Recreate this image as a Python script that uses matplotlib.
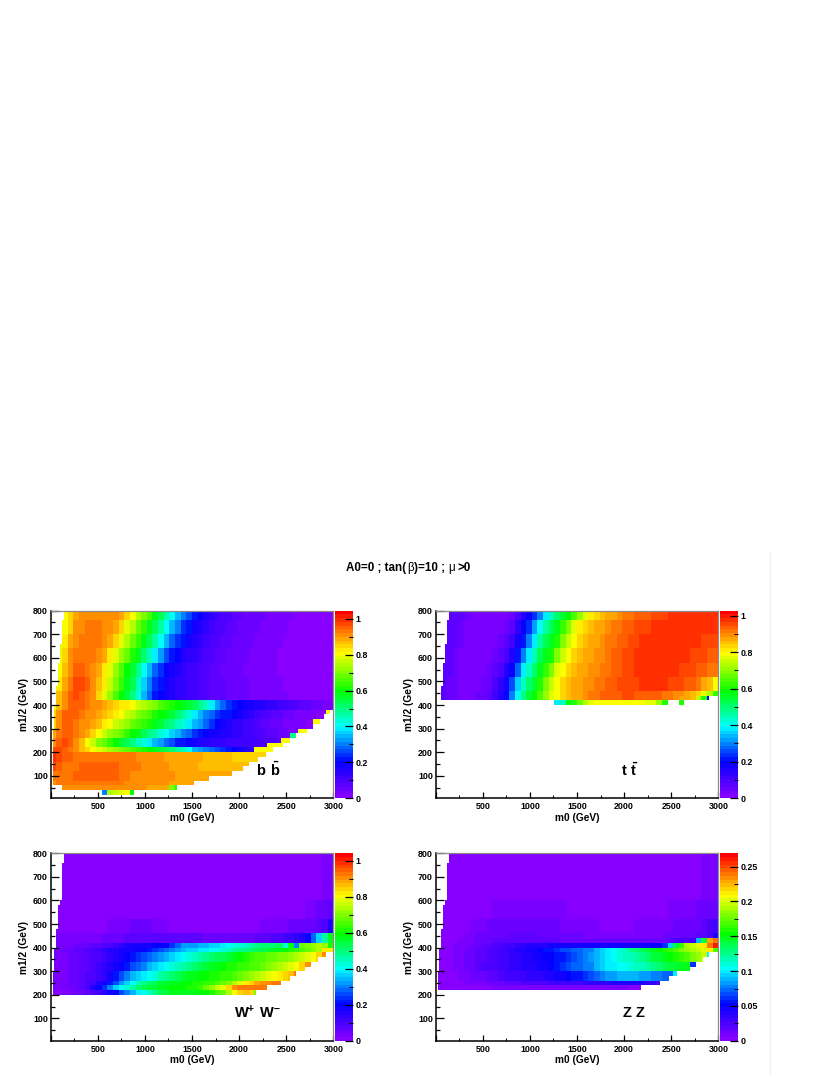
"""Branching ratio maps in the m0, m1/2 plane."""
import matplotlib
matplotlib.use("Agg")
import matplotlib.pyplot as plt
import numpy as np
from matplotlib.colors import LinearSegmentedColormap
from matplotlib.lines import Line2D
from matplotlib.ticker import MultipleLocator

_ = np.nan

plt.rcParams["font.family"] = ["Liberation Sans", "DejaVu Sans"]
plt.rcParams["font.weight"] = "bold"
plt.rcParams["axes.labelweight"] = "bold"
plt.rcParams["mathtext.fontset"] = "custom"
plt.rcParams["mathtext.bf"] = "Liberation Sans:bold"
plt.rcParams["mathtext.rm"] = "Liberation Sans:bold"

# left border of the scanned region, shared by all panels
left_m12 = [300, 400, 480, 580, 660, 760, 800]
left_m0 = [20, 40, 60, 80, 100, 120, 140]

# b bbar, percent; each row is one m1/2 band, each entry a 60 GeV wide m0 step
bb_tops = [800, 760, 700, 640, 580, 520, 460, 420, 380, 340, 300, 260, 220, 200, 160, 120, 80, 60, 40]
bb_rows = [
    [_,_,80,84,88,90,91,91,92,92,92,91,89,85,80,75,71,65,58,54,48,40,35,30,26,22,19,16,14,12,10,9,8,7,6,6,5,5,4,4,3,3,3,2,2,2,2,1,1,1],
    [_,_,80,85,90,92,93,93,93,92,91,88,84,79,74,69,63,58,53,47,40,35,30,25,21,18,15,14,12,10,9,8,7,6,6,5,5,4,4,3,3,3,2,2,2,2,1,1,1,1],
    [_,78,82,88,92,93,94,94,93,91,88,84,79,74,69,63,58,54,47,40,34,29,25,21,17,15,13,12,10,9,8,7,6,6,5,5,4,4,3,3,3,2,2,2,2,2,1,1,1,1],
    [_,78,84,90,93,94,94,93,91,88,83,79,73,67,62,57,52,45,38,32,27,23,19,16,14,13,11,10,9,8,7,6,6,5,5,4,4,3,3,3,2,2,2,2,2,2,1,1,1,1],
    [_,80,86,92,95,95,94,92,88,83,78,72,66,60,56,49,41,35,29,24,20,17,15,13,12,11,10,9,8,7,6,6,5,5,4,4,3,3,3,3,2,2,2,2,2,2,2,1,1,1],
    [75,82,88,94,97,97,95,92,87,82,76,70,63,58,53,44,37,30,25,21,18,16,14,13,12,11,10,9,8,7,7,6,6,5,5,4,4,3,3,3,3,2,2,2,2,2,2,2,1,1],
    [80,86,92,96,97,96,94,90,85,79,73,66,60,56,50,42,35,28,23,19,17,15,14,13,12,11,10,9,8,8,7,6,6,5,5,4,4,4,3,3,3,3,2,2,2,2,2,2,2,2],
    [80,86,92,96,96,95,93,91,90,89,87,85,83,82,80,76,74,72,70,66,64,62,60,58,56,54,50,44,38,33,28,25,22,20,18,17,16,15,14,13,12,11,10,9,8,7,6,5,4,3],
    [85,90,95,96,95,94,92,90,88,86,84,82,80,77,74,71,68,65,62,60,58,55,51,47,43,38,34,31,28,25,23,21,19,17,15,13,11,10,9,8,7,6,5,4,3,3,3,2,2,2],
    [85,92,96,96,94,92,90,88,86,83,80,77,75,72,69,66,64,61,58,55,52,49,46,42,38,35,32,28,24,20,18,16,14,13,12,11,10,8,7,6,5,4,3,3,3,2,2,2,2,2],
    [88,93,96,96,94,92,89,85,81,77,73,70,67,64,60,57,54,50,47,43,40,37,34,31,28,25,22,20,18,17,16,15,14,13,12,11,10,9,8,7,6,5,4,3,3,3,3,2,2,2],
    [90,95,97,96,92,86,80,76,71,67,63,59,56,53,49,46,42,39,35,32,29,26,23,21,20,18,16,15,14,13,13,12,12,12,12,11,11,10,10,9,8,7,6,5,4,3,3,3,2,2],
    [98,98,96,93,90,87,84,81,78,76,74,72,70,68,66,64,62,60,58,56,54,52,48,44,40,35,32,30,28,26,24,22,20,18,16,14,14,14,14,14,14],
    [99,98,96,95,94,94,94,94,94,94,94,94,94,93,93,92,92,91,90,90,89,89,89,88,88,88,88,87,87,86,86,86,85,85,85,84,84,84],
    [97,95,94,94,94,95,95,95,95,95,95,95,94,94,93,93,92,92,91,90,90,89,89,88,88,88,87,87,87,87,86,86,86,86,86],
    [93,94,94,94,95,95,95,95,95,95,95,95,94,93,92,92,92,91,91,91,90,90,89,89,89,88,88,88,88,88,88,88],
    [92,93,93,93,93,94,94,94,94,94,93,93,93,92,92,92,91,91,91,90,90,89,88,88,88,88],
    [_,_,92,92,92,92,92,92,92,92,91,91,91,90,90,90,90,89,89,88,88,70,62],
    [_,_,_,_,_,_,_,_,_,30,74,77,79,80,60],
]
bb_right_m12 = [20, 40, 60, 80, 100, 120, 140, 160, 180, 200, 220, 240, 260, 280, 300, 320, 340, 360]
bb_right_m0 = [880, 1340, 1520, 1680, 1940, 2030, 2130, 2190, 2290, 2360, 2450, 2540, 2590, 2720, 2770, 2850, 2900, 2960]
bb_cap_m12 = [360, 320, 280, 260, 240, 220, 200]
bb_cap_m0 = [2910, 2770, 2610, 2540, 2440, 2300, 2150]
bb_cap_val = [80, 80, 80, 50, 80, 80, 80]

# t tbar, percent
tt_tops = [800, 760, 700, 640, 580, 520, 460, 440, 420]
tt_rows = [
    [_,_,8,8,7,5,4,3,3,3,3,3,4,6,9,15,20,24,30,38,45,50,55,58,64,70,77,81,84,86,87,88,90,91,92,93,94,94,95,96,96,97,97,98,98,97,97,97,97,97],
    [_,_,8,7,6,4,3,3,3,3,3,4,5,8,14,19,24,32,40,47,53,57,62,69,76,81,84,86,87,88,90,91,92,93,94,95,96,96,97,97,98,98,98,98,98,98,97,97,97,97],
    [_,8,8,7,5,4,3,3,3,3,4,5,7,11,17,22,30,38,46,52,56,61,68,75,80,83,86,87,88,90,91,92,93,94,95,96,97,97,98,98,98,98,98,98,98,97,97,96,96,96],
    [_,8,7,6,4,3,3,3,3,4,5,7,10,16,21,29,37,45,52,56,61,68,75,80,83,85,87,88,89,90,92,93,94,95,96,97,98,98,98,98,98,98,98,97,97,96,95,95,94,94],
    [_,8,7,5,4,3,3,3,4,5,7,10,15,20,28,37,45,51,56,62,69,76,80,83,85,87,88,89,90,91,92,93,94,95,96,97,97,98,98,98,98,97,97,96,96,95,94,93,92,92],
    [_,8,6,5,4,3,3,4,5,6,9,13,18,26,35,44,50,55,60,68,75,80,83,85,87,88,89,90,91,92,93,94,95,95,96,96,97,97,97,97,97,96,95,95,94,93,91,88,85,80],
    [_,8,6,5,4,4,4,5,6,8,11,15,20,30,40,48,54,59,64,70,76,80,83,85,87,88,89,91,92,93,94,94,94,95,95,94,94,94,94,93,92,91,90,89,88,86,84,78,72,62],
    [_,8,6,5,4,4,4,5,6,8,11,15,20,30,40,48,54,59,64,70,76,80,83,85,87,88,89,91,92,93,94,94,94,95,95,94,94,94,94,93,92,91,90,88,87,85,75,60,20],
    [_,_,_,_,_,_,_,_,_,_,_,_,_,_,_,_,_,_,_,_,_,38,45,58,60,66,72,78,80,80,80,80,80,80,80,80,80,78,78,70,60,_,_,60],
]
tt_right_m12 = [420]
tt_right_m0 = [2900]

# W+ W-, percent
ww_tops = [800, 600, 520, 460, 420, 400, 380, 340, 300, 260, 240, 220]
ww_rows = [
    [_,_,1,1,1,1,1,1,1,1,1,1,1,1,1,1,1,1,1,1,1,1,1,1,1,1,1,1,1,1,1,1,1,1,1,1,1,1,1,1,1,1,1,1,1,1,1,2,3,4],
    [_,1,1,1,1,1,1,1,1,1,1,1,1,1,1,1,1,1,1,1,1,1,1,1,1,1,1,1,1,1,1,1,1,1,1,1,1,1,1,1,1,1,1,1,2,3,4,5,6,7],
    [_,2,2,2,2,2,2,2,2,2,3,3,3,4,5,5,5,5,4,3,3,2,2,2,2,2,2,2,2,2,2,2,2,2,2,2,2,3,3,3,4,4,5,5,5,6,6,7,10,15],
    [4,4,4,4,4,4,4,4,4,5,5,6,6,7,7,8,8,8,8,8,8,8,7,7,7,7,7,6,6,6,6,6,6,6,6,6,7,7,8,9,10,11,12,14,16,20,28,36,46,58],
    [4,4,4,4,5,5,6,7,8,9,10,12,14,16,17,18,18,18,19,19,20,24,28,32,32,33,34,35,36,37,38,40,42,43,45,47,48,50,50,50,52,42,58,30,68,70,72,74,72,62],
    [3,4,5,6,7,8,9,10,12,13,15,16,17,18,18,19,20,22,24,27,29,30,32,34,36,37,38,39,40,41,42,44,46,48,49,50,52,54,56,57,58,60,62,64,66,68,70,74,82,82],
    [3,3,4,5,6,7,8,9,10,11,13,15,17,19,21,23,25,28,30,32,34,36,38,40,42,44,46,48,50,52,54,56,58,60,62,64,65,66,67,68,69,70,72,74,76,78,80,84,90,90],
    [4,4,4,5,6,7,8,10,11,13,15,17,19,22,25,28,31,34,36,38,40,42,44,46,48,51,53,55,57,58,60,61,62,63,64,65,66,67,69,71,73,76,78,80,84,90,96,96,96,96],
    [4,4,4,5,6,7,9,10,11,14,17,21,25,30,34,37,39,41,43,46,49,51,53,55,57,58,59,60,61,62,63,64,65,67,69,71,73,76,78,80,82,84,87,92,96,96,96],
    [3,3,4,5,6,7,9,12,15,18,22,27,33,37,40,44,48,51,53,55,56,57,58,59,60,61,62,63,64,66,68,70,74,78,82,85,88,90,91,92,93,93,93],
    [3,3,4,5,6,7,10,15,20,24,30,36,40,42,46,50,53,55,56,57,58,59,60,60,61,62,64,68,72,76,79,85,90,92,92,93,93,93,93,94],
    [2,2,3,4,5,6,7,9,11,14,17,20,25,30,35,38,40,44,48,52,55,57,58,58,58,58,59,60,62,65,68,74,80,85,86,84,70],
]
ww_right_m12 = [200, 220, 240, 260, 280, 300, 320, 340, 360]
ww_right_m0 = [2170, 2300, 2440, 2540, 2600, 2700, 2760, 2840, 2910]

# Z Z, thousandths
zz_tops = [800, 600, 520, 460, 440, 420, 400, 380, 340, 300, 260, 240]
zz_rows = [
    [_,_,2,2,2,2,2,2,2,2,2,2,2,2,2,2,2,2,2,2,2,2,2,2,2,2,2,2,2,2,2,2,2,2,2,2,2,2,2,2,2,2,2,2,3,4,5,6,8,10],
    [2,2,2,2,2,2,3,3,4,5,6,7,8,9,9,10,10,10,10,9,8,7,6,5,4,3,3,3,3,3,3,3,3,3,3,3,3,3,4,4,5,6,7,8,9,10,11,12,14,16],
    [3,3,3,3,4,5,7,9,10,11,12,13,13,14,14,14,14,13,13,12,12,11,10,9,9,8,7,6,6,5,5,5,5,5,5,6,6,6,7,8,9,10,11,12,13,14,16,18,24,32],
    [4,4,4,4,5,6,9,11,13,14,15,16,16,17,17,17,17,17,16,16,15,14,13,12,11,11,10,9,9,8,8,8,8,8,8,8,8,9,10,10,11,12,13,14,15,16,18,20,25,45],
    [4,4,4,5,6,7,10,13,15,16,17,18,18,19,20,20,20,20,20,19,18,17,16,15,15,14,14,13,13,12,12,12,13,13,13,13,14,14,15,15,16,18,22,28,22,30,90,140,230,240],
    [5,5,5,6,7,9,12,15,18,21,24,26,29,31,33,35,38,40,42,43,45,46,47,47,48,48,48,48,48,48,48,48,48,48,48,48,48,48,50,52,60,95,145,165,190,195,200,215,240,260],
    [4,4,5,6,8,11,14,17,20,23,26,29,32,35,38,41,45,48,52,55,58,62,65,68,71,74,77,80,88,95,100,105,110,118,125,130,135,140,148,155,160,165,172,178,186,190,196,203,210,170],
    [4,4,5,6,8,11,14,17,20,23,26,28,31,34,37,39,42,44,47,50,52,54,56,60,65,70,77,82,88,93,100,105,110,114,118,122,127,133,140,145,148,152,160,165,172,180,188,198,105],
    [4,4,5,6,9,13,16,20,22,24,26,29,31,33,35,38,40,42,44,47,50,55,60,65,70,73,76,80,88,95,98,100,103,106,110,113,118,122,128,132,136,140,145,148,150,60],
    [3,3,4,5,7,10,12,14,15,18,21,24,27,28,30,31,33,35,37,40,42,45,48,50,54,58,62,68,74,80,83,85,87,88,90,88,86,84,80,78,72,70,100],
    [2,3,3,4,5,6,8,9,10,11,13,15,17,19,20,22,23,24,25,26,27,28,29,30,31,32,33,34,35,36,37,38,39,40,40,40,38,36,34,30],
    [2,2,3,3,3,4,4,4,5,5,6,6,6,7,7,7,8,8,8,8,8,8,8,8,8,8,7,7,7,7,6,6,6,6,5,5,5],
]
zz_bottom = 220
zz_right_m12 = [220, 240, 260, 280, 300, 320, 340, 360]
zz_right_m0 = [2180, 2380, 2480, 2560, 2700, 2770, 2840, 2890]

# colour bar ranges and ticks
bb_zmax, tt_zmax, ww_zmax, zz_zmax = 1.046, 1.027, 1.04, 0.269
m0_edges = np.arange(0, 3001, 20)
m12_edges = np.arange(0, 801, 20)

palette = LinearSegmentedColormap.from_list(
    "root_rainbow",
    [(0.0, (0.53, 0.0, 1.0)), (0.19, (0.0, 0.0, 1.0)), (0.38, (0.0, 1.0, 1.0)),
     (0.57, (0.0, 1.0, 0.0)), (0.78, (1.0, 1.0, 0.0)), (1.0, (1.0, 0.0, 0.0))],
    N=50,
)
palette.set_bad("white")


def make_grid(tops, rows, scale, right_m12=(), right_m0=(), cap=None):
    """Fill the 20 GeV cells of one panel from its bands of values."""
    grid = np.full((len(m12_edges) - 1, len(m0_edges) - 1), np.nan)
    for j, y in enumerate(m12_edges[:-1]):
        band = [k for k in range(len(rows)) if tops[k + 1] <= y < tops[k]]
        if not band:
            continue
        row = rows[band[0]]
        first = left_m0[np.searchsorted(left_m12, y + 1)]
        last = right_m0[right_m12.index(y)] if y in right_m12 else 3000
        for i, x in enumerate(m0_edges[:-1]):
            col = int(x // 60)
            if first <= x < last and col < len(row):
                grid[j, i] = row[col] * scale
        if cap is not None and y in cap[0]:
            k = cap[0].index(y)
            grid[j, (m0_edges[:-1] >= cap[1][k]) & (m0_edges[:-1] < last)] = cap[2][k] * scale
    return grid


def px_axes(fig, left, right, top, bottom):
    w, h = fig.get_size_inches() * fig.dpi
    return fig.add_axes([left / w, 1 - bottom / h, (right - left) / w, (bottom - top) / h])


def draw_panel(fig, box, grid, zmax, major, minor, label, label_xy):
    left, right, top, bottom = box
    ax = px_axes(fig, left, right, top, bottom)
    mesh = ax.pcolormesh(m0_edges, m12_edges, grid, cmap=palette, vmin=0, vmax=zmax, rasterized=True)
    ax.xaxis.set_major_locator(MultipleLocator(500))
    ax.xaxis.set_minor_locator(MultipleLocator(250))
    ax.yaxis.set_major_locator(MultipleLocator(100))
    ax.yaxis.set_minor_locator(MultipleLocator(50))
    ax.xaxis.set_major_formatter(lambda v, pos: f"{v:g}" if v > 0 else "")
    ax.set_xlim(0, 3000)
    ax.set_ylim(5, 800)
    ax.tick_params(axis="x", which="major", direction="in", length=4.2, width=0.9, labelsize=6.4, pad=3)
    ax.tick_params(axis="x", which="minor", direction="in", length=2.2, width=0.7)
    ax.tick_params(axis="y", which="major", direction="in", length=6, width=0.9, labelsize=6.4, pad=2)
    ax.tick_params(axis="y", which="minor", direction="in", length=3, width=0.9)
    for side in ["left", "bottom"]:
        ax.spines[side].set_linewidth(1.1)
    for side in ["top", "right"]:
        ax.spines[side].set_color("#8a8a8a")
        ax.spines[side].set_linewidth(0.9)
    ax.set_xlabel("m0 (GeV)", fontsize=7.3, labelpad=1)
    ax.set_ylabel("m1/2 (GeV)", fontsize=7.3, labelpad=3)
    ax.text(label_xy[0], label_xy[1], label, fontsize=10.5, ha="center", va="center")

    cax = px_axes(fig, right + 1.7, right + 19.5, top, bottom)
    cbar = fig.colorbar(mesh, cax=cax)
    cbar.outline.set_visible(False)
    cax.yaxis.set_major_locator(MultipleLocator(major))
    cax.yaxis.set_minor_locator(MultipleLocator(minor))
    cax.tick_params(which="major", direction="in", length=6, width=0.9, labelsize=6.4, pad=2, right=True)
    cax.tick_params(which="minor", direction="in", length=3, width=0.8, right=True)
    cax.yaxis.set_major_formatter(lambda v, pos: f"{v:g}")
    return ax


def chain_title(fig, pieces, x, y):
    renderer = fig.canvas.get_renderer()
    w, h = fig.get_size_inches() * fig.dpi
    for text, weight, gap in pieces:
        t = fig.text(x / w, 1 - y / h, text, fontsize=8.4, weight=weight, va="center", ha="left")
        x = t.get_window_extent(renderer).x1 + gap


fig = plt.figure(figsize=(8.3, 10.75), dpi=100, facecolor="white")

bb_grid = make_grid(bb_tops + [20], bb_rows, 0.01, bb_right_m12, bb_right_m0, (bb_cap_m12, bb_cap_m0, bb_cap_val))
tt_grid = make_grid(tt_tops + [400], tt_rows, 0.01, tt_right_m12, tt_right_m0)
ww_grid = make_grid(ww_tops + [200], ww_rows, 0.01, ww_right_m12, ww_right_m0)
zz_grid = make_grid(zz_tops + [zz_bottom], zz_rows, 0.001, zz_right_m12, zz_right_m0)

draw_panel(fig, (50.7, 333.4, 610.7, 798.2), bb_grid, bb_zmax, 0.2, 0.1, r"$\mathbf{b\ \bar{b}}$", (2310, 124))
draw_panel(fig, (435.7, 718.4, 610.7, 798.2), tt_grid, tt_zmax, 0.2, 0.1, r"$\mathbf{t\ \bar{t}}$", (2062, 124))
draw_panel(fig, (50.7, 333.4, 853.3, 1040.8), ww_grid, ww_zmax, 0.2, 0.1, r"$\mathbf{W^{+}\ W^{-}}$", (2193, 124))
draw_panel(fig, (435.7, 718.4, 853.3, 1040.8), zz_grid, zz_zmax, 0.05, 0.025, "Z Z", (2108, 124))

chain_title(fig, [("A0=0 ; tan(", "bold", 0.5), ("β", "normal", 0.5), (")=10 ;", "bold", 3),
                  ("μ", "normal", 3), (">0", "bold", 0)], 346.5, 568)

# faint page edge on the right of the original scan
fig.add_artist(Line2D([769.5 / 830, 769.5 / 830], [0, 1 - 552 / 1075], color="#f1f1f1", lw=1))

fig.savefig("out.png", dpi=100)
